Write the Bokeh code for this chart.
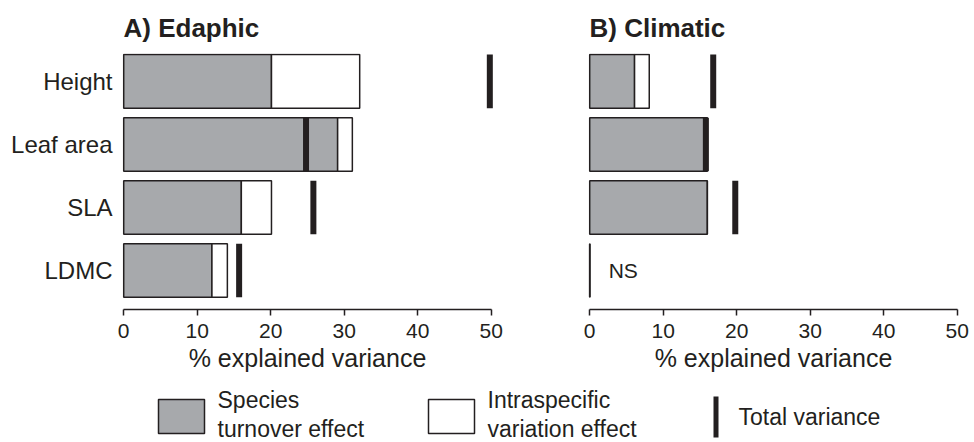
from bokeh.plotting import figure
from bokeh.layouts import column, row
from bokeh.models import ColumnDataSource, Range1d, FixedTicker
from bokeh.embed import file_html
from bokeh.resources import INLINE
from bokeh.core.properties import value

# ---------------- data ----------------
traits = ["Height", "Leaf area", "SLA", "LDMC"]
tick_values = [0, 10, 20, 30, 40, 50]

edaphic_turnover = [20.1, 29.1, 16.0, 12.0]
edaphic_intraspecific = [12.0, 2.0, 4.1, 2.1]
edaphic_total = [49.8, 24.8, 25.8, 15.7]

climatic_turnover = [6.1, 16.0, 16.0, 0.0]
climatic_intraspecific = [2.0, 0.0, 0.0, 0.0]
climatic_total = [16.8, 15.8, 19.8, float("nan")]
climatic_significant = [True, True, True, False]

legend_labels = ["Species\nturnover effect", "Intraspecific\nvariation effect", "Total variance"]

# ---------------- styles ----------------
FONT = "Liberation Sans"
INK = "#231f20"
GREY = "#a7a9ac"
BAR_H = 0.85
PANEL_H = 386


def make_panel(title, turnover, intra, total, signif, width, b_left, b_right, show_labels):
    n = len(traits)
    ypos = [n - 1 - i for i in range(n)]
    p = figure(width=width, height=PANEL_H,
               x_range=Range1d(-0.3, 50.3), y_range=Range1d(-0.618, 3.442),
               output_backend="svg", toolbar_location=None,
               min_border_left=b_left, min_border_right=b_right,
               min_border_top=52, min_border_bottom=PANEL_H - 52 - 257)
    p.outline_line_color = None
    p.grid.visible = False
    p.background_fill_color = "white"
    p.border_fill_color = "white"

    ends = [t + w for t, w in zip(turnover, intra)]
    src = ColumnDataSource(dict(y=ypos, turnover=turnover, ends=ends, total=total,
                                zero=[0] * n))
    p.hbar(y="y", left="zero", right="turnover", height=BAR_H, source=src,
           fill_color=GREY, line_color=INK, line_width=1.5)
    p.hbar(y="y", left="turnover", right="ends", height=BAR_H, source=src,
           fill_color="white", line_color=INK, line_width=1.5)
    p.rect(x="total", y="y", width=6, width_units="screen", height=BAR_H,
           source=src, fill_color=INK, line_color=None)

    # NS marker for non-significant rows
    ns_y = [y for y, s in zip(ypos, signif) if not s]
    if ns_y:
        ns_src = ColumnDataSource(dict(x=[0] * len(ns_y), y=ns_y,
                                       y0=[y - BAR_H / 2 for y in ns_y],
                                       y1=[y + BAR_H / 2 for y in ns_y],
                                       t=["NS"] * len(ns_y)))
        p.segment(x0="x", y0="y0", x1="x", y1="y1", source=ns_src,
                  line_color=INK, line_width=1.5)
        p.text(x="x", y="y", text="t", source=ns_src, x_offset=19,
               text_font=value(FONT), text_font_size="21px", text_color=INK,
               text_baseline="middle", text_align="left")

    xa = p.xaxis[0]
    xa.ticker = FixedTicker(ticks=tick_values)
    xa.bounds = (0, 50)
    xa.axis_label = "% explained variance"
    xa.axis_label_text_font = FONT
    xa.axis_label_text_font_size = "25px"
    xa.axis_label_text_font_style = "normal"
    xa.axis_label_text_color = INK
    xa.axis_label_standoff = 3
    xa.major_label_text_font = FONT
    xa.major_label_text_font_size = "21px"
    xa.major_label_text_color = INK
    xa.major_label_standoff = 8
    xa.axis_line_color = INK
    xa.axis_line_width = 1.5
    xa.major_tick_line_color = INK
    xa.major_tick_line_width = 1.5
    xa.major_tick_in = 0
    xa.major_tick_out = 6
    xa.minor_tick_line_color = None

    ya = p.yaxis[0]
    if show_labels:
        ya.ticker = FixedTicker(ticks=ypos)
        ya.major_label_overrides = {y: t for y, t in zip(ypos, traits)}
        ya.major_label_text_font = FONT
        ya.major_label_text_font_size = "24px"
        ya.major_label_text_color = INK
        ya.major_label_standoff = 9
        ya.axis_line_color = None
        ya.major_tick_line_color = None
        ya.minor_tick_line_color = None
        ya.major_tick_out = 0
        ya.major_tick_in = 0
    else:
        ya.visible = False

    p.title.text = title
    p.title.align = "left"
    p.title.text_font = FONT
    p.title.text_font_size = "26px"
    p.title.text_font_style = "bold"
    p.title.text_color = INK
    p.title.offset = 2
    p.title.standoff = 21
    return p


left = make_panel("A) Edaphic", edaphic_turnover, edaphic_intraspecific, edaphic_total,
                  [True] * 4, 540, 121, 47, True)
right = make_panel("B) Climatic", climatic_turnover, climatic_intraspecific, climatic_total,
                   climatic_significant, 434, 47, 15, False)

# ---------------- legend strip ----------------
LEG_H = 442 - PANEL_H
top = 442 - 380 - LEG_H   # legend coordinates are measured from y = 380 of the page
lg = figure(width=974, height=LEG_H, x_range=Range1d(0, 974), y_range=Range1d(62, top),
            output_backend="svg", toolbar_location=None,
            min_border=0, min_border_left=0, min_border_right=0,
            min_border_top=0, min_border_bottom=0)
lg.axis.visible = False
lg.grid.visible = False
lg.outline_line_color = None

box_x = [181, 451]          # layout positions of legend swatches (px)
box_fill = [GREY, "white"]
lg.rect(x=box_x, y=[36, 36], width=46, height=34, fill_color=box_fill,
        line_color=INK, line_width=1.5)
lg.rect(x=[715.5], y=[36.5], width=5, height=41, fill_color=INK, line_color=None)
lg.text(x=[217, 487], y=[34.2, 34.2], text=legend_labels[:2],
        text_font=value(FONT), text_font_size="23px", text_color=INK,
        text_baseline="middle", text_align="left", text_line_height=1.13)
lg.text(x=[738], y=[36.5], text=legend_labels[2:],
        text_font=value(FONT), text_font_size="23px", text_color=INK,
        text_baseline="middle", text_align="left")

layout = column(row(left, right), lg)

open("out.html", "w").write(file_html(layout, INLINE))
